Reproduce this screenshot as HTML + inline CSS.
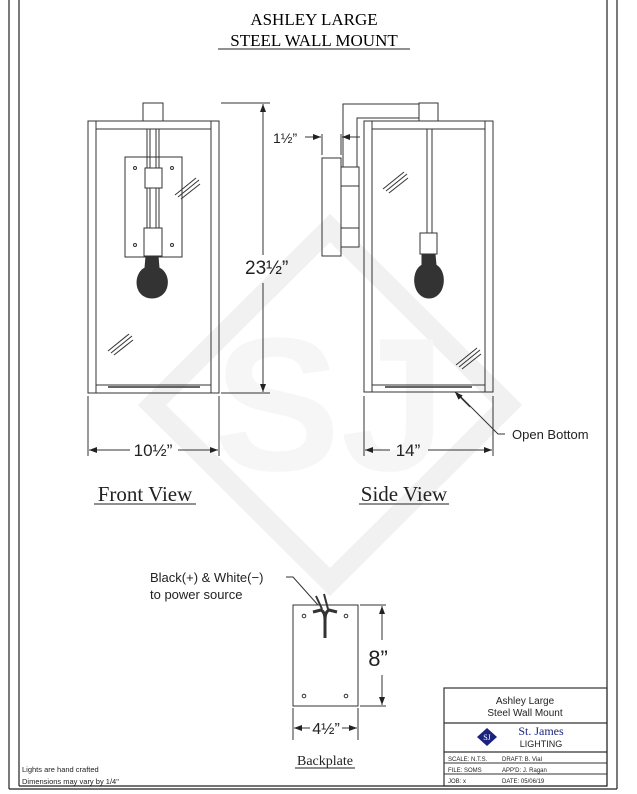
<!DOCTYPE html>
<html><head><meta charset="utf-8"><style>
html,body{margin:0;padding:0;background:#fff;}
svg{display:block;}
.s{font-family:"Liberation Sans",sans-serif;}
.r{font-family:"Liberation Serif",serif;}
</style></head><body>
<svg width="637" height="794" viewBox="0 0 637 794" xmlns="http://www.w3.org/2000/svg">
<defs>
<marker id="a" markerWidth="8" markerHeight="6" refX="8" refY="3" orient="auto"><path d="M0,0 L8,3 L0,6 z" fill="#222"/></marker>
</defs>
<!-- watermark -->
<g opacity="0.8">
<polygon points="330,228 508,405 330,582 152,405" fill="none" stroke="#eeeeee" stroke-width="20"/>
<text x="330" y="470" text-anchor="middle" class="s" font-size="190" font-weight="bold" fill="#f4f4f4">SJ</text>
</g>
<!-- page border -->
<g stroke="#222" fill="none" stroke-width="1.2">
<line x1="9" y1="0" x2="9" y2="789"/>
<line x1="19" y1="0" x2="19" y2="786"/>
<line x1="607" y1="0" x2="607" y2="786"/>
<line x1="617" y1="0" x2="617" y2="789"/>
<line x1="9" y1="789" x2="617" y2="789"/>
<line x1="19" y1="786" x2="607" y2="786"/>
</g>
<!-- title -->
<text x="314" y="25" text-anchor="middle" class="r" font-size="17">ASHLEY LARGE</text>
<text x="314" y="46" text-anchor="middle" class="r" font-size="17">STEEL WALL MOUNT</text>
<line x1="218" y1="49" x2="410" y2="49" stroke="#222" stroke-width="1"/>

<g stroke="#333" fill="none" stroke-width="1">
<!-- FRONT VIEW -->
<rect x="143" y="103" width="20" height="18"/>
<rect x="88" y="121" width="131" height="272"/>
<line x1="96" y1="121" x2="96" y2="393"/>
<line x1="211" y1="121" x2="211" y2="393"/>
<line x1="96" y1="129" x2="211" y2="129"/>
<line x1="96" y1="385" x2="211" y2="385"/>
<rect x="125" y="157" width="57" height="100" fill="#fff"/>
<circle cx="135" cy="168" r="1.5"/><circle cx="172" cy="168" r="1.5"/>
<circle cx="135" cy="245" r="1.5"/><circle cx="172" cy="245" r="1.5"/>
<line x1="147" y1="129" x2="147" y2="228"/><line x1="150" y1="129" x2="150" y2="228"/>
<line x1="156" y1="129" x2="156" y2="228"/><line x1="159" y1="129" x2="159" y2="228"/>
<rect x="145" y="168" width="17" height="20" fill="#fff"/>
<rect x="144" y="228" width="18" height="28" fill="#fff"/>
<path d="M146,256 L158,256 L159,268 C172,274 170,298 152,298 C134,298 133,274 145,268 Z" fill="#333"/>
<line x1="175" y1="195" x2="196" y2="178"/><line x1="178" y1="197" x2="199" y2="180"/><line x1="181" y1="199" x2="200" y2="184"/>
<line x1="108" y1="351" x2="129" y2="334"/><line x1="111" y1="353" x2="132" y2="336"/><line x1="114" y1="355" x2="133" y2="340"/>
<line x1="108" y1="387" x2="200" y2="387" stroke-width="1.5"/>
<!-- 23.5 dim -->
<line x1="221" y1="103" x2="270" y2="103"/>
<line x1="221" y1="393" x2="270" y2="393"/>
<line x1="263" y1="255" x2="263" y2="104" marker-end="url(#a)"/>
<line x1="263" y1="283" x2="263" y2="392" marker-end="url(#a)"/>
<!-- 10.5 dim -->
<line x1="88" y1="396" x2="88" y2="456"/><line x1="219" y1="396" x2="219" y2="456"/>
<line x1="130" y1="450" x2="89" y2="450" marker-end="url(#a)"/>
<line x1="178" y1="450" x2="218" y2="450" marker-end="url(#a)"/>

<!-- SIDE VIEW -->
<path d="M419,104 L343,104 L343,167"/>
<path d="M419,118 L357,118 L357,167"/>
<rect x="419" y="103" width="19" height="18"/>
<rect x="322" y="158" width="19" height="98"/>
<rect x="341" y="167" width="18" height="80"/>
<rect x="341" y="167" width="18" height="19" fill="#fff"/>
<rect x="341" y="228" width="18" height="19" fill="#fff"/>
<rect x="364" y="121" width="129" height="271"/>
<line x1="372" y1="121" x2="372" y2="392"/>
<line x1="485" y1="121" x2="485" y2="392"/>
<line x1="372" y1="129" x2="485" y2="129"/>
<line x1="372" y1="385" x2="485" y2="385"/>
<line x1="427" y1="129" x2="427" y2="233"/><line x1="432" y1="129" x2="432" y2="233"/>
<rect x="420" y="233" width="17" height="21" fill="#fff"/>
<path d="M422,254 L435,254 L436,265 C448,272 445,298 429,298 C413,298 410,272 422,265 Z" fill="#333"/>
<line x1="383" y1="189" x2="404" y2="172"/><line x1="386" y1="191" x2="407" y2="174"/><line x1="389" y1="193" x2="408" y2="178"/>
<line x1="456" y1="365" x2="477" y2="348"/><line x1="459" y1="367" x2="480" y2="350"/><line x1="462" y1="369" x2="481" y2="354"/>
<line x1="385" y1="387" x2="472" y2="387" stroke-width="1.5"/>
<!-- 1.5 dim -->
<line x1="322" y1="134" x2="322" y2="155"/><line x1="341" y1="134" x2="341" y2="155"/>
<line x1="305" y1="137" x2="321" y2="137" marker-end="url(#a)"/>
<line x1="360" y1="137" x2="342" y2="137" marker-end="url(#a)"/>
<!-- 14 dim -->
<line x1="364" y1="396" x2="364" y2="456"/><line x1="493" y1="396" x2="493" y2="456"/>
<line x1="390" y1="450" x2="365" y2="450" marker-end="url(#a)"/>
<line x1="428" y1="450" x2="492" y2="450" marker-end="url(#a)"/>
<!-- open bottom leader -->
<path d="M505,434 L498,434 L457,393" />
<line x1="470" y1="407" x2="455" y2="392" marker-end="url(#a)"/>

<!-- BACKPLATE -->
<rect x="293" y="605" width="65" height="101"/>
<circle cx="304" cy="616" r="1.8"/><circle cx="346" cy="616" r="1.8"/>
<circle cx="304" cy="696" r="1.8"/><circle cx="346" cy="696" r="1.8"/>
<path d="M313,612 L321,610 Q325,612 325,620 L325,638" stroke-width="3"/>
<path d="M337,612 L329,610 Q325,612 325,620" stroke-width="3"/>
<line x1="322" y1="609" x2="316" y2="596" stroke-width="2"/>
<line x1="328" y1="609" x2="324" y2="594" stroke-width="2"/>
<path d="M286,577 L293,577 L318,605"/>
<line x1="360" y1="605" x2="386" y2="605"/><line x1="360" y1="706" x2="386" y2="706"/>
<line x1="382" y1="640" x2="382" y2="606" marker-end="url(#a)"/>
<line x1="382" y1="675" x2="382" y2="705" marker-end="url(#a)"/>
<line x1="293" y1="708" x2="293" y2="740"/><line x1="358" y1="708" x2="358" y2="740"/>
<line x1="310" y1="728" x2="294" y2="728" marker-end="url(#a)"/>
<line x1="342" y1="728" x2="357" y2="728" marker-end="url(#a)"/>

<!-- title block -->
<rect x="444" y="688" width="163" height="98" stroke-width="1.2"/>
<line x1="444" y1="723" x2="607" y2="723" stroke-width="1.2"/>
<line x1="444" y1="752" x2="607" y2="752" stroke-width="1.2"/>
<line x1="444" y1="763" x2="607" y2="763"/>
<line x1="444" y1="774" x2="607" y2="774"/>
</g>
<g fill="#222">
<text x="245" y="274" class="s" font-size="19">23½”</text>
<text x="153" y="456" text-anchor="middle" class="s" font-size="17">10½”</text>
<text x="408" y="456" text-anchor="middle" class="s" font-size="17">14”</text>
<text x="273" y="143" class="s" font-size="14">1½”</text>
<text x="512" y="439" class="s" font-size="13">Open Bottom</text>
<text x="145" y="501" text-anchor="middle" class="r" font-size="21">Front View</text>
<text x="404" y="501" text-anchor="middle" class="r" font-size="21">Side View</text>
<text x="150" y="582" class="s" font-size="13">Black(+) &amp; White(−)</text>
<text x="150" y="599" class="s" font-size="13">to power source</text>
<text x="378" y="666" text-anchor="middle" class="s" font-size="22">8”</text>
<text x="326" y="734" text-anchor="middle" class="s" font-size="16">4½”</text>
<text x="325" y="765" text-anchor="middle" class="r" font-size="14">Backplate</text>
<text x="22" y="772" class="s" font-size="7.5">Lights are hand crafted</text>
<text x="22" y="784" class="s" font-size="7.5">Dimensions may vary by 1/4"</text>
<text x="525" y="704" text-anchor="middle" class="s" font-size="10">Ashley Large</text>
<text x="525" y="716" text-anchor="middle" class="s" font-size="10">Steel Wall Mount</text>
<text x="541" y="735" text-anchor="middle" class="r" font-size="12" fill="#1a237e">St. James</text>
<text x="541" y="747" text-anchor="middle" class="s" font-size="9">LIGHTING</text>
<text x="448" y="761" class="s" font-size="6">SCALE:  N.T.S.</text>
<text x="502" y="761" class="s" font-size="6">DRAFT:  B. Vial</text>
<text x="448" y="772" class="s" font-size="6">FILE:   SOMS</text>
<text x="502" y="772" class="s" font-size="6">APP'D:  J. Ragan</text>
<text x="448" y="783" class="s" font-size="6">JOB:    x</text>
<text x="502" y="783" class="s" font-size="6">DATE:   05/06/19</text>
</g>
<polygon points="487,728 497,737 487,746 477,737" fill="#1a237e"/>
<text x="487" y="740" text-anchor="middle" class="r" font-size="8" fill="#fff">SJ</text>
<line x1="94" y1="504" x2="196" y2="504" stroke="#222"/>
<line x1="359" y1="504" x2="449" y2="504" stroke="#222"/>
<line x1="295" y1="768" x2="355" y2="768" stroke="#222"/>
</svg>
</body></html>
